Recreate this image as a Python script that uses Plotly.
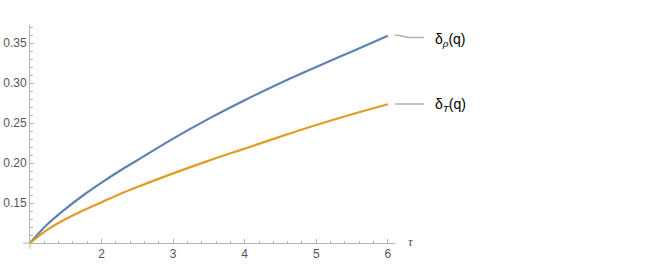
import plotly.graph_objects as go

# Data
tau = [1.0, 1.25, 1.5, 1.75, 2.0, 2.25, 2.5, 3.0, 3.5, 4.0, 4.5, 5.0, 5.5, 6.0]
delta_rho = [0.100, 0.124, 0.143, 0.160, 0.1755, 0.190, 0.2035, 0.2305, 0.2555, 0.2785, 0.300, 0.320, 0.3395, 0.359]
delta_T = [0.100, 0.117, 0.130, 0.141, 0.151, 0.161, 0.170, 0.187, 0.203, 0.218, 0.233, 0.2475, 0.261, 0.2735]
x_ticks = [2, 3, 4, 5, 6]
y_ticks = [0.15, 0.20, 0.25, 0.30, 0.35]
y_tick_text = ["0.15", "0.20", "0.25", "0.30", "0.35"]

W, H = 654, 264
L, R, T, B = 30, 395, 25, 243  # plot area in px


def px(x):
    return (x - L) / (R - L)


def py(y):
    return (B - y) / (B - T)


xr = [1.0, 6.1]
yr = [0.10, 0.3725]

fig = go.Figure()
fig.add_trace(go.Scatter(x=tau, y=delta_rho, mode="lines", line=dict(color="#5E81B5", width=2.2, shape="spline", smoothing=1.0), showlegend=False))
fig.add_trace(go.Scatter(x=tau, y=delta_T, mode="lines", line=dict(color="#E19C24", width=2.2, shape="spline", smoothing=1.0), showlegend=False))

axis_color = "#b3b3b3"
font_tick = dict(family="Liberation Sans, Arial", size=12, color="#555555")

fig.update_layout(
    width=W, height=H,
    margin=dict(l=L, r=W - R, t=T, b=H - B, autoexpand=False),
    paper_bgcolor="white", plot_bgcolor="white",
    xaxis=dict(
        range=xr,
        showgrid=False, zeroline=False, showline=True, linecolor=axis_color, linewidth=1,
        tickmode="array", tickvals=x_ticks, ticks="inside", ticklen=4, tickcolor=axis_color,
        tickfont=font_tick, automargin=False,
        minor=dict(tickmode="linear", tick0=0, dtick=0.2, ticks="inside", ticklen=2.5, tickcolor=axis_color, showgrid=False),
    ),
    yaxis=dict(
        range=yr,
        showgrid=False, zeroline=False, showline=True, linecolor=axis_color, linewidth=1,
        tickmode="array", tickvals=y_ticks, ticktext=y_tick_text, ticks="inside", ticklen=4, tickcolor=axis_color,
        tickfont=font_tick, automargin=False,
        minor=dict(tickmode="linear", tick0=0, dtick=0.01, ticks="inside", ticklen=2.5, tickcolor=axis_color, showgrid=False),
    ),
)

# small overshoot of the axis lines past the origin
fig.add_shape(type="line", xref="paper", yref="paper", x0=px(23), y0=0, x1=0, y1=0,
              line=dict(color=axis_color, width=1))
fig.add_shape(type="line", xref="paper", yref="paper", x0=0, y0=py(249), x1=0, y1=0,
              line=dict(color=axis_color, width=1))

lead = "#b0b0b0"
fig.add_shape(type="path", xref="paper", yref="paper",
              path=f"M {px(395)},{py(35.5)} C {px(400)},{py(34)} {px(404)},{py(37.5)} {px(410)},{py(37.5)} L {px(424)},{py(37.5)}",
              line=dict(color=lead, width=1.5))
fig.add_shape(type="line", xref="paper", yref="paper",
              x0=px(395), y0=py(104), x1=px(424), y1=py(104),
              line=dict(color=lead, width=1.5))

lab_font = dict(family="Liberation Sans, Arial", size=14, color="#000000")
fig.add_annotation(xref="paper", yref="paper", x=px(433), y=py(40), xanchor="left", yanchor="middle",
                   text="δ<sub><i>ρ</i></sub>(q)", showarrow=False, font=lab_font)
fig.add_annotation(xref="paper", yref="paper", x=px(433), y=py(105), xanchor="left", yanchor="middle",
                   text="δ<sub><i>T</i></sub>(q)", showarrow=False, font=lab_font)
fig.add_annotation(xref="paper", yref="paper", x=px(406), y=py(241), xanchor="left", yanchor="middle",
                   text="<i>τ</i>", showarrow=False, font=dict(family="Liberation Serif, Times", size=13, color="#555555"))

fig.write_html("out.html", config={"displayModeBar": False},
               post_script="document.body.style.margin='0';document.body.style.overflow='hidden';")
